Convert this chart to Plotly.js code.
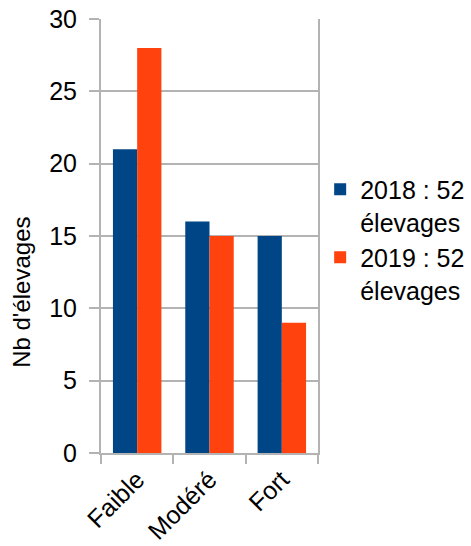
<!DOCTYPE html>
<html>
<head>
<meta charset="utf-8">
<script src="https://cdn.plot.ly/plotly-3.0.1.min.js"></script>
<style>html,body{margin:0;padding:0;background:#fff;}#chart{width:471px;height:546px;}</style>
</head>
<body>
<div id="chart"></div>
<script>
const categories = ["Faible", "Modéré", "Fort"];
const series2018 = [21, 16, 15];
const series2019 = [28, 15, 9];
const seriesNames = ["2018 : 52<br>élevages", "2019 : 52<br>élevages"];
const yTickValues = [0, 5, 10, 15, 20, 25, 30];
const yTitle = "Nb d'élevages";

const font = "Liberation Sans, Arial, sans-serif";
const fs = 25;
const data = [
  {type: "bar", x: categories, y: series2018, name: seriesNames[0], marker: {color: "#004586"}},
  {type: "bar", x: categories, y: series2019, name: seriesNames[1], marker: {color: "#ff420e"}}
];
const layout = {
  width: 471, height: 546,
  margin: {l: 101, r: 153, t: 19, b: 93, pad: 0, autoexpand: false},
  paper_bgcolor: "#fff", plot_bgcolor: "#fff",
  font: {family: font, size: fs, color: "#000"},
  barmode: "group", bargap: 0.33, bargroupgap: 0,
  showlegend: true,
  legend: {x: 1.01, xanchor: "left", y: 0.66, yanchor: "top", valign: "top",
           font: {family: font, size: fs, color: "#000"}, tracegroupgap: 0},
  xaxis: {
    type: "category", tickangle: -45, ticks: "outside", tickson: "boundaries",
    ticklen: 9, tickwidth: 2, tickcolor: "#b3b3b3",
    showline: true, linecolor: "#b3b3b3", linewidth: 2,
    showgrid: false, tickfont: {family: font, size: fs, color: "#000"}
  },
  yaxis: {
    range: [0, 30], tickvals: yTickValues, ticks: "outside", ticklen: 10, tickwidth: 2,
    tickcolor: "#b3b3b3", showline: true, linecolor: "#b3b3b3", linewidth: 2, mirror: true,
    showgrid: true, gridcolor: "#b3b3b3", gridwidth: 2, zeroline: false,
    tickfont: {family: font, size: fs, color: "#000"}, ticklabelstandoff: 7
  },
  annotations: [{
    text: yTitle, textangle: -90, showarrow: false,
    xref: "paper", yref: "paper", x: -0.364, y: 0.369, xanchor: "center", yanchor: "middle",
    font: {family: font, size: 24, color: "#000"}
  }]
};
Plotly.newPlot("chart", data, layout, {displayModeBar: false, staticPlot: true});
</script>
</body>
</html>
